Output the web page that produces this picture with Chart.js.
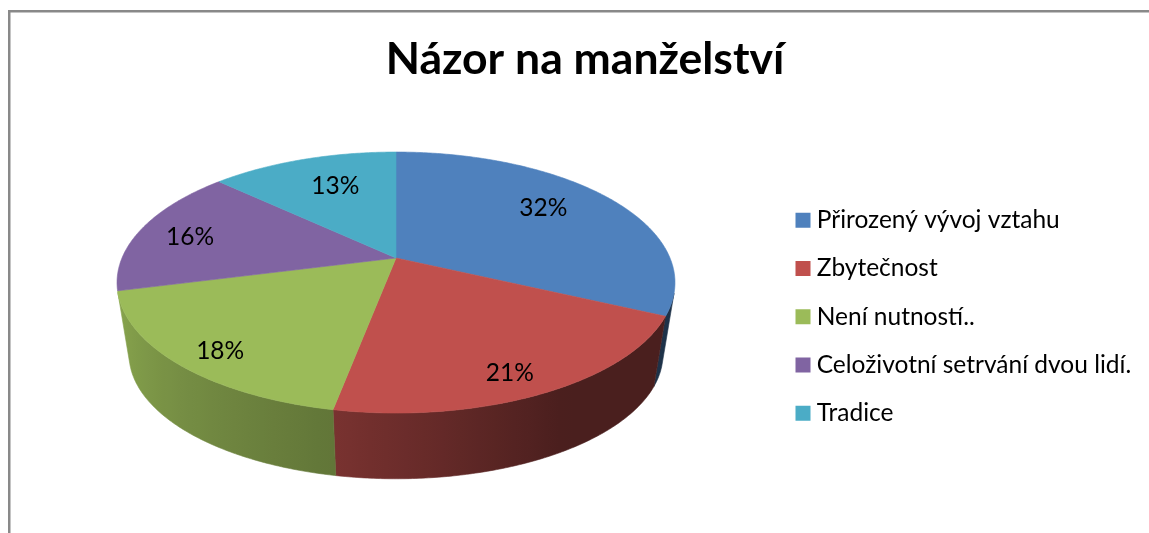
<!DOCTYPE html>
<html><head><meta charset="utf-8">
<script src="https://cdn.jsdelivr.net/npm/chart.js@4/dist/chart.umd.js"></script>
<style>html,body{margin:0;padding:0;background:#fff}#w{width:1149px;height:533px;position:relative}</style>
</head><body><div id="w"><canvas id="c" width="1149" height="533"></canvas></div>
<script>
const chartTitle = "Názor na manželství";
const categories = ["Přirozený vývoj vztahu", "Zbytečnost", "Není nutností..", "Celoživotní setrvání dvou lidí.", "Tradice"];
const values = [32, 21, 18, 16, 13];
const colors = ["#4f81bd", "#c0504d", "#9bbb59", "#8064a2", "#4bacc6"];

// perspective projection of the pie disc (u = cos a, v = sin a)
const K = -0.188;
const TOP = {x0: 396, y0: 258, bx: 274, by: 125.9};
const BOT = {x0: 396, y0: 331, bx: 262.2, by: 120};
const project = (p, a, r = 1) => {
  const u = r * Math.cos(a), v = r * Math.sin(a), d = 1 + K * v;
  return [p.x0 + p.bx * u / d, p.y0 + p.by * v / d];
};
const shadeAt = a => {
  let t = (a + Math.PI / 2) * 180 / Math.PI; // clockwise from top
  if (t <= 150) return 0.39;
  if (t <= 190) return 0.39 + (t - 150) / 40 * 0.24;
  return Math.min(0.63 + (t - 190) / 66 * 0.27, 0.9);
};
const shade = (hex, f) => {
  const n = parseInt(hex.slice(1), 16);
  return `rgb(${(n >> 16) * f | 0},${((n >> 8) & 255) * f | 0},${(n & 255) * f | 0})`;
};

const ArcEl = Chart.ArcElement || Chart.elements.ArcElement;
ArcEl.prototype.draw = function (ctx) {
  const o = this.options;
  ctx.save();
  ctx.beginPath();
  ctx.moveTo(TOP.x0, TOP.y0);
  const n = Math.max(2, Math.ceil((this.endAngle - this.startAngle) / 0.01));
  for (let i = 0; i <= n; i++) {
    const [x, y] = project(TOP, this.startAngle + (this.endAngle - this.startAngle) * i / n);
    ctx.lineTo(x, y);
  }
  ctx.closePath();
  ctx.fillStyle = o.backgroundColor;
  ctx.strokeStyle = o.backgroundColor;
  ctx.lineWidth = 0.6;
  ctx.fill();
  ctx.stroke();
  ctx.restore();
};

const framePlugin = {
  id: 'frame',
  beforeDraw(chart) {
    const c = chart.ctx;
    c.save();
    c.fillStyle = '#fff';
    c.fillRect(0, 0, 1149, 533);
    c.fillStyle = '#898989';
    c.fillRect(8, 10, 1141, 2.5);
    c.fillRect(8, 10, 2.5, 523);
    c.restore();
  },
  afterLayout(chart) {
    const l = chart.legend;
    l.left = 777.75; l.right = 1149; l.top = 184.25; l.bottom = 520;
  }
};
const facesViewer = (a, b) => {
  const pts = [project(TOP, a), project(TOP, b), project(BOT, b), project(BOT, a)];
  let area = 0;
  pts.forEach((p, k) => { const q = pts[(k + 1) % 4]; area += p[0] * q[1] - q[0] * p[1]; });
  return area < 0;
};
const sidesPlugin = {
  id: 'sides',
  beforeDatasetsDraw(chart) {
    const c = chart.ctx, arcs = chart.getDatasetMeta(0).data;
    c.save();
    arcs.forEach((arc, i) => {
      const step = 0.01;
      let a1 = null, a2 = null;
      for (let a = arc.startAngle; a < arc.endAngle; a += step) {
        const b = Math.min(a + step, arc.endAngle);
        if (facesViewer(a, b)) { if (a1 === null) a1 = a; a2 = b; }
      }
      if (a1 === null) return;
      const n = Math.max(2, Math.ceil((a2 - a1) / step));
      const at = k => a1 + (a2 - a1) * k / n;
      const xs = [];
      for (let k = 0; k <= n; k++) xs.push(project(TOP, at(k))[0]);
      const xMin = Math.min(...xs), xMax = Math.max(...xs);
      const g = c.createLinearGradient(xMin, 0, xMax, 0);
      const stops = 24;
      for (let k = 0; k <= stops; k++) {
        const idx = Math.round(k / stops * n);
        g.addColorStop(Math.min(1, Math.max(0, (xs[idx] - xMin) / ((xMax - xMin) || 1))), shade(colors[i], shadeAt(at(idx))));
      }
      c.beginPath();
      for (let k = 0; k <= n; k++) { const p = project(TOP, at(k)); k ? c.lineTo(...p) : c.moveTo(...p); }
      for (let k = n; k >= 0; k--) c.lineTo(...project(BOT, at(k)));
      c.closePath();
      c.fillStyle = g;
      c.strokeStyle = g;
      c.lineWidth = 0.6;
      c.fill();
      c.stroke();
    });
    c.restore();
  }
};
// nudges (px) of the percent labels from their slice anchor
const labelNudge = [[-8, -5], [12, 23], [-26, 20], [-21, 1], [9, 2]];
const labelsPlugin = {
  id: 'pctLabels',
  afterDatasetsDraw(chart) {
    const c = chart.ctx, arcs = chart.getDatasetMeta(0).data;
    c.save();
    c.font = '24.5px Lato';
    c.fillStyle = '#000';
    c.textAlign = 'center';
    c.textBaseline = 'middle';
    const total = values.reduce((p, q) => p + q, 0);
    arcs.forEach((arc, i) => {
      const [x, y] = project(TOP, (arc.startAngle + arc.endAngle) / 2, 0.72);
      c.fillText(Math.round(values[i] / total * 100) + '%', x + labelNudge[i][0], y + labelNudge[i][1]);
    });
    c.restore();
  }
};

new Chart(document.getElementById('c'), {
  type: 'pie',
  data: {labels: categories, datasets: [{data: values, backgroundColor: colors, borderWidth: 0}]},
  options: {
    responsive: false,
    animation: false,
    layout: {padding: {left: 21}},
    plugins: {
      tooltip: {enabled: false},
      title: {display: true, text: chartTitle, color: '#000', font: {family: 'Lato', size: 44.5, weight: 'bold'}, padding: {top: 33, bottom: 10}},
      legend: {
        position: 'right', align: 'start',
        labels: {
          color: '#000', font: {family: 'Lato', size: 24.5},
          boxWidth: 3, boxHeight: 3, padding: 23.75,
          generateLabels: () => categories.map((t, i) => ({text: t, fillStyle: colors[i], strokeStyle: colors[i], lineWidth: 12, index: i}))
        }
      }
    }
  },
  plugins: [framePlugin, sidesPlugin, labelsPlugin]
});
</script></body></html>
